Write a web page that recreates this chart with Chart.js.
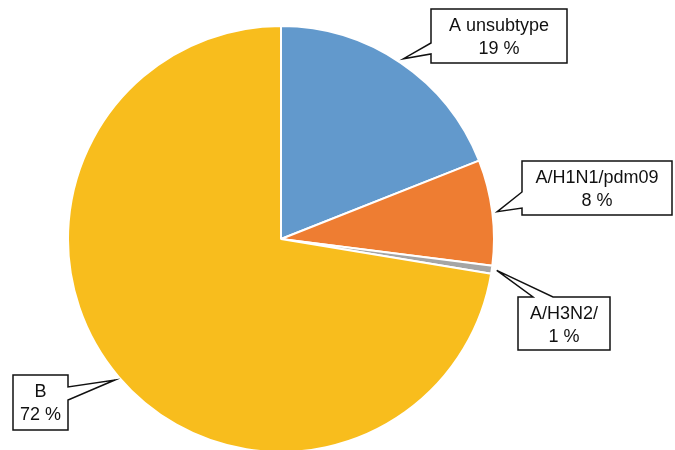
<!DOCTYPE html>
<html>
<head>
<meta charset="utf-8">
<script src="https://cdn.jsdelivr.net/npm/chart.js@4/dist/chart.umd.min.js"></script>
<style>
  body { margin: 0; background: #fff; }
  canvas { display: block; }
</style>
</head>
<body>
<canvas id="pie-chart" width="675" height="450"></canvas>
<script>
// data
const categories = ['A unsubtype', 'A/H1N1/pdm09', 'A/H3N2/', 'B'];
const shares = [19, 8, 0.6, 72.4];
const shareLabels = ['19 %', '8 %', '1 %', '72 %'];
const colours = ['#6299cc', '#ee7d32', '#a5a5a5', '#f8bd1d'];

// callout boxes: rect + which edge the pointer leaves from (a..b along that edge)
const callouts = [
    {x1: 431, y1: 9, x2: 567, y2: 63, side: 'left', a: 43, b: 54},
    {x1: 522, y1: 161, x2: 672, y2: 215, side: 'left', a: 192, b: 208},
    {x1: 518, y1: 297, x2: 610, y2: 350, side: 'top', a: 533, b: 553},
    {x1: 13, y1: 375, x2: 68, y2: 430, side: 'right', a: 387, b: 400}
];

const calloutPlugin = {
    id: 'callouts',
    afterDatasetsDraw(chart) {
        const ctx = chart.ctx;
        const arcs = chart.getDatasetMeta(0).data;

        arcs.forEach((arc, i) => {
            const box = callouts[i];
            const mid = (arc.startAngle + arc.endAngle) / 2;
            const tx = arc.x + Math.cos(mid) * (arc.outerRadius + 5);
            const ty = arc.y + Math.sin(mid) * (arc.outerRadius + 5);

            ctx.save();
            ctx.beginPath();
            ctx.moveTo(box.x1, box.y1);
            if (box.side === 'top') {
                ctx.lineTo(box.a, box.y1);
                ctx.lineTo(tx, ty);
                ctx.lineTo(box.b, box.y1);
            }
            ctx.lineTo(box.x2, box.y1);
            if (box.side === 'right') {
                ctx.lineTo(box.x2, box.a);
                ctx.lineTo(tx, ty);
                ctx.lineTo(box.x2, box.b);
            }
            ctx.lineTo(box.x2, box.y2);
            ctx.lineTo(box.x1, box.y2);
            if (box.side === 'left') {
                ctx.lineTo(box.x1, box.b);
                ctx.lineTo(tx, ty);
                ctx.lineTo(box.x1, box.a);
            }
            ctx.closePath();
            ctx.fillStyle = '#fff';
            ctx.fill();
            ctx.lineWidth = 1.5;
            ctx.strokeStyle = '#111';
            ctx.lineJoin = 'miter';
            ctx.stroke();

            ctx.fillStyle = '#111';
            ctx.font = '18px "Liberation Sans", Arial, sans-serif';
            ctx.textAlign = 'center';
            ctx.textBaseline = 'alphabetic';
            const cx = (box.x1 + box.x2) / 2;
            ctx.fillText(categories[i], cx, box.y1 + 22);
            ctx.fillText(shareLabels[i], cx, box.y1 + 45);
            ctx.restore();
        });
    }
};

const data = {
    labels: categories,
    datasets: [{
        data: shares,
        backgroundColor: colours,
        borderColor: '#fff',
        borderWidth: 2,
        radius: 213,
        clip: false
    }]
};

const config = {
    type: 'pie',
    data: data,
    options: {
        responsive: false,
        animation: false,
        layout: {padding: {left: 0, right: 113, top: 28, bottom: 0}},
        plugins: {
            legend: {display: false},
            tooltip: {enabled: false}
        }
    },
    plugins: [calloutPlugin]
};

const myChart = new Chart(document.getElementById('pie-chart'), config);
</script>
</body>
</html>
